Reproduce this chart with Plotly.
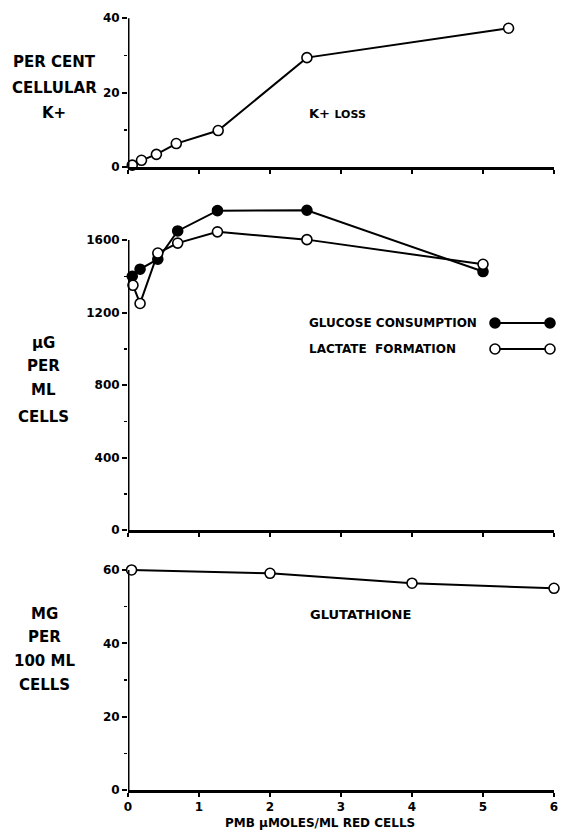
import plotly.graph_objects as go

# ---------------- data ----------------
k_x = [0.06, 0.19, 0.40, 0.68, 1.27, 2.52, 5.36]
k_loss = [0.5, 1.8, 3.4, 6.3, 9.8, 29.4, 37.3]

glu_x = [0.06, 0.17, 0.42, 0.70, 1.26, 2.52, 5.0]
glucose = [1400, 1439, 1494, 1650, 1762, 1764, 1426]

lac_x = [0.07, 0.17, 0.42, 0.70, 1.26, 2.52, 5.0]
lactate = [1350, 1250, 1528, 1583, 1645, 1602, 1466]

gsh_x = [0.05, 2, 4, 6]
glutathione = [60.0, 59.1, 56.4, 55.0]

x_ticks = [0, 1, 2, 3, 4, 5, 6]
k_ticks = [0, 20, 40]
ug_ticks = [0, 400, 800, 1200, 1600]
mg_ticks = [0, 20, 40, 60]

# ---------------- layout geometry (pixels of the 562x832 window) ----------------
W, H = 562, 832              # figure size (page margin removed by post script)
X0, X6 = 128, 554            # window pixels of x=0 and x=6
BOT = 790                    # window pixel of the lowest x axis
TOP = 12                     # window pixel of top of the plotting area
L, R = X0, W - X6
T, B = TOP, H - BOT
PH = BOT - TOP
PW = X6 - X0

def py(p):   # window pixel y -> paper y
    return (BOT - p) / PH

def px(p):   # window pixel x -> paper x
    return (p - X0) / PW

FONT = "DejaVu Sans"
BLACK = "black"

fig = go.Figure()

marker_open = dict(symbol="circle", size=10, color="white", line=dict(color=BLACK, width=1.6))
marker_fill = dict(symbol="circle", size=10, color=BLACK, line=dict(color=BLACK, width=1.6))
line_style = dict(color=BLACK, width=2)

fig.add_trace(go.Scatter(x=k_x, y=k_loss, mode="lines+markers", marker=marker_open,
                         line=line_style, xaxis="x", yaxis="y", cliponaxis=False,
                         showlegend=False, name="K+ loss"))
fig.add_trace(go.Scatter(x=glu_x, y=glucose, mode="lines+markers", marker=marker_fill,
                         line=line_style, xaxis="x2", yaxis="y2", cliponaxis=False,
                         showlegend=False, name="Glucose consumption"))
fig.add_trace(go.Scatter(x=lac_x, y=lactate, mode="lines+markers", marker=marker_open,
                         line=line_style, xaxis="x2", yaxis="y2", cliponaxis=False,
                         showlegend=False, name="Lactate formation"))
fig.add_trace(go.Scatter(x=gsh_x, y=glutathione, mode="lines+markers", marker=marker_open,
                         line=line_style, xaxis="x3", yaxis="y3", cliponaxis=False,
                         showlegend=False, name="Glutathione"))

tickfont = dict(family=FONT, size=12, color=BLACK, weight="bold")

def xaxis(anchor, labels):
    return dict(anchor=anchor, domain=[0, 1], range=[0, 6], showline=True, linecolor=BLACK,
                linewidth=3, tickvals=x_ticks, ticks="outside", ticklen=4, tickwidth=2,
                tickcolor=BLACK, showticklabels=labels, showgrid=False, zeroline=False,
                tickfont=tickfont, fixedrange=True, automargin=False)

def yaxis(anchor, dom, rng, tv, minor):
    return dict(anchor=anchor, domain=dom, range=rng, tickvals=tv, ticks="outside",
                ticklen=5, tickwidth=2, tickcolor=BLACK, showline=False, showgrid=False,
                zeroline=False, tickfont=tickfont, automargin=False,
                minor=dict(dtick=minor, ticks="outside", ticklen=3, tickwidth=1.5,
                           tickcolor=BLACK, showgrid=False, tick0=0),
                fixedrange=True)

# window-pixel positions of zero lines & pixel scales
top_zero, top_scale = 167, 3.72
mid_zero, mid_scale = 530, 0.18125
bot_zero, bot_scale = BOT, 3.667

top_max = (top_zero - TOP) / top_scale
mid_max = 1790
bot_max = 62

fig.update_layout(
    width=W, height=H, autosize=False,
    margin=dict(l=L, r=R, t=T, b=B, autoexpand=False),
    paper_bgcolor="white", plot_bgcolor="white",
    showlegend=False,
    xaxis=xaxis("y", False),
    xaxis2=xaxis("y2", False),
    xaxis3=xaxis("y3", True),
    yaxis=yaxis("x", [py(top_zero), 1.0], [0, top_max], k_ticks, 10),
    yaxis2=yaxis("x2", [py(mid_zero), py(mid_zero - mid_max * mid_scale)], [0, mid_max], ug_ticks, 200),
    yaxis3=yaxis("x3", [0, py(bot_zero - bot_max * bot_scale)], [0, bot_max], mg_ticks, 10),
)

shapes = []
# y-axis lines only up to the top labelled tick
for yref, top in [("y", k_ticks[-1]), ("y2", ug_ticks[-1]), ("y3", mg_ticks[-1])]:
    xr = {"y": "x", "y2": "x2", "y3": "x3"}[yref]
    shapes.append(dict(type="line", xref=xr, yref=yref, x0=0, x1=0, y0=0, y1=top,
                       line=dict(color=BLACK, width=3)))

# legend keys (decoration)
for ypix, filled in [(323, True), (349, False)]:
    shapes.append(dict(type="line", xref="paper", yref="paper", x0=px(495), x1=px(550),
                       y0=py(ypix), y1=py(ypix), line=dict(color=BLACK, width=2)))
    for xpix in (495, 550):
        shapes.append(dict(type="circle", xref="paper", yref="paper",
                           xsizemode="pixel", ysizemode="pixel",
                           xanchor=px(xpix), yanchor=py(ypix), x0=-5, x1=5, y0=-5, y1=5,
                           fillcolor=BLACK if filled else "white",
                           line=dict(color=BLACK, width=1.6)))
fig.update_layout(shapes=shapes)

ann = []
def text(s, xpix, ypix, size=15, anchor="center"):
    ann.append(dict(text=s, xref="paper", yref="paper", x=px(xpix), y=py(ypix),
                    xanchor=anchor, yanchor="middle", showarrow=False,
                    font=dict(family=FONT, size=size, color=BLACK, weight="bold")))

# y titles
for s, yy in [("PER CENT", 62), ("CELLULAR", 88), ("K+", 113)]:
    text(s, 54, yy, 15)
for s, yy in [("μG", 343), ("PER", 366), ("ML", 390), ("CELLS", 417)]:
    text(s, 43, yy, 15)
for s, yy in [("MG", 614), ("PER", 637), ("100 ML", 661), ("CELLS", 685)]:
    text(s, 44, yy, 15)

# in-plot labels
text("K+ <span style='font-size:11px'>LOSS</span>", 337, 113, 13)
text("GLUTATHIONE", 360, 614, 13)
text("GLUCOSE CONSUMPTION", 307, 323, 12, "left")
text("LACTATE  FORMATION", 307, 349, 12, "left")

# x title
text("PMB μMOLES/ML RED CELLS", 320, 823, 12)

fig.update_layout(annotations=ann)

fig.write_html(
    "out.html",
    config={"responsive": False, "displayModeBar": False, "staticPlot": True},
    post_script=("document.body.style.margin='0';"
                 "document.body.style.overflow='hidden';"
                 "document.documentElement.style.overflow='hidden';"),
)
